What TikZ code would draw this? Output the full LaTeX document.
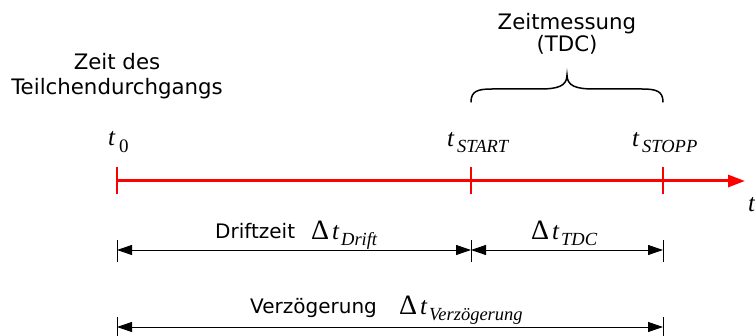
\documentclass[tikz,border=0pt]{standalone}
\usepackage{fontspec}
\setmainfont{DejaVu Sans}
\newfontfamily\tms{Liberation Serif}
\usetikzlibrary{arrows.meta}
\newcommand{\bigt}{{\fontsize{25}{25}\selectfont\tms\itshape t}}
\newcommand{\dlt}{{\fontsize{28}{28}\selectfont\tms Δ}}
\newcommand{\sbs}[1]{\raisebox{-6pt}{\fontsize{18.5}{18.5}\selectfont\tms\itshape #1}}
\newcommand{\sbu}[1]{\raisebox{-7pt}{\fontsize{19}{19}\selectfont\tms #1}}
\tikzset{
  lbl/.style={inner sep=0pt, anchor=base west},
  sans/.style={inner sep=0pt, anchor=base, font=\fontsize{21.3}{24}\selectfont},
  axisline/.style={red, line width=3pt, -{Triangle[length=17pt,width=12pt]}},
  redtick/.style={red, line width=2pt},
  dimline/.style={black, line width=0.9pt, {Triangle[length=15pt,width=10pt]}-{Triangle[length=15pt,width=10pt]}},
  dimtick/.style={black, line width=0.9pt},
  bracepath/.style={black, line width=1.5pt, line cap=round}
}
\begin{document}
\begin{tikzpicture}[x=1pt,y=-1pt]
\useasboundingbox (0,0) rectangle (755,336);
% axis coordinates
\coordinate (t0) at (117,181);
\coordinate (ts) at (471,181);
\coordinate (tp) at (663,181);
\coordinate (tend) at (745,181);
\draw[axisline] (t0) -- (tend);
\foreach \c in {t0,ts,tp}{
  \draw[redtick] ([yshift=14pt]\c) -- ([yshift=-13pt]\c);
}
% labels on axis
\node[lbl] (lt0) at (108,146) {\bigt\hspace{4pt}\sbu{0}};
\node[lbl] (lts) at (447,147) {\bigt\hspace{3pt}\sbs{START}};
\node[lbl] (ltp) at (632,147) {\bigt\hspace{3pt}\sbs{STOPP}};
\node[lbl] (lt) at (748,212) {\bigt};
% top texts
\node[sans] (z1) at (117,70) {Zeit des};
\node[sans] (z2) at (117,95) {Teilchendurchgangs};
\node[sans] (m1) at (567,30) {Zeitmessung};
\node[sans] (m2) at (567,52) {(TDC)};
% brace
\coordinate (b1) at (471,102);
\coordinate (b2) at (663,102);
\coordinate (btip) at (567,75);
\draw[bracepath] (b1) .. controls (471,91) and (478,89) .. (492,89) -- (540,89)
  .. controls (558,89) and (567,86) .. (btip)
  .. controls (567,86) and (576,89) .. (594,89) -- (642,89)
  .. controls (656,89) and (663,91) .. (b2);
% dimension row 1
\coordinate (d1a) at (117,250);
\coordinate (d1b) at (471,250);
\coordinate (d1c) at (663,250);
\foreach \c in {d1a,d1b,d1c}{
  \draw[dimtick] ([yshift=10pt]\c) -- ([yshift=-12pt]\c);
}
\draw[dimline] (d1a) -- (d1b);
\draw[dimline] (d1b) -- (d1c);
\node[lbl, font=\fontsize{20}{24}\selectfont] (dz) at (215,239) {Driftzeit};
\node[lbl] (ddr) at (311,240) {\dlt\hspace{3pt}\bigt\hspace{2pt}\sbs{Drift}};
\node[lbl] (dtdc) at (531,240) {\dlt\hspace{3pt}\bigt\hspace{2pt}\sbs{TDC}};
% dimension row 2
\coordinate (d2a) at (117,327);
\coordinate (d2c) at (663,327);
\foreach \c in {d2a,d2c}{
  \draw[dimtick] ([yshift=10pt]\c) -- ([yshift=-12pt]\c);
}
\draw[dimline] (d2a) -- (d2c);
\node[lbl, font=\fontsize{20}{24}\selectfont] (vz) at (250,314) {Verzögerung};
\node[lbl] (dvz) at (399,315) {\dlt\hspace{3pt}\bigt\hspace{2pt}\sbs{Verzögerung}};
\end{tikzpicture}
\end{document}
